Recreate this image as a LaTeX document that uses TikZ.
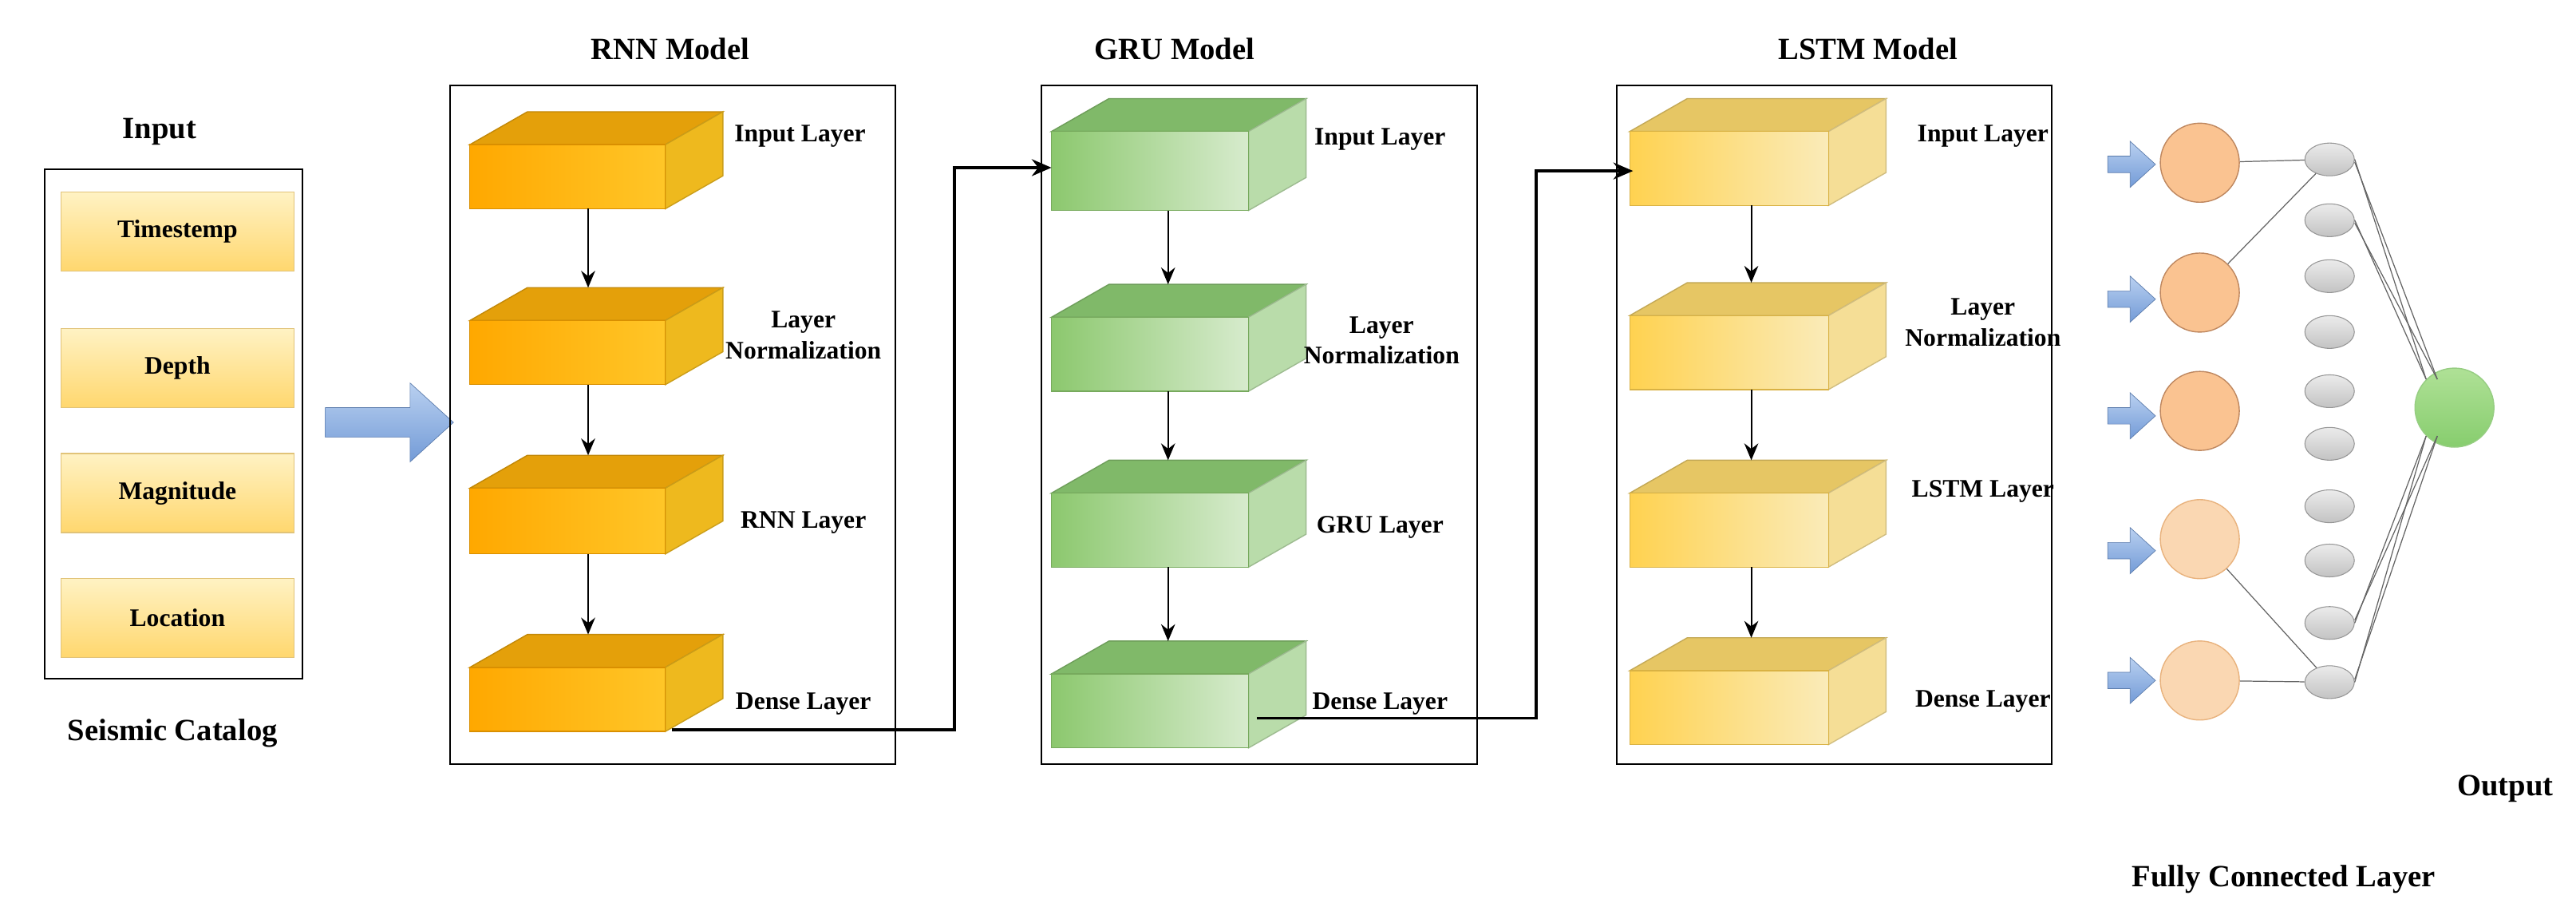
\documentclass[tikz,border=0pt]{standalone}
\usepackage{fontspec}
\setmainfont{Liberation Serif}
\usetikzlibrary{shapes.geometric,arrows.meta}
\definecolor{rA}{RGB}{255,168,0}\definecolor{rB}{RGB}{255,198,40}\definecolor{rT}{RGB}{228,160,10}\definecolor{rS}{RGB}{238,185,30}
\definecolor{gA}{RGB}{140,200,110}\definecolor{gB}{RGB}{215,235,205}\definecolor{gT}{RGB}{128,185,105}\definecolor{gS}{RGB}{185,220,170}
\definecolor{lA}{RGB}{255,210,80}\definecolor{lB}{RGB}{250,235,185}\definecolor{lT}{RGB}{230,198,100}\definecolor{lS}{RGB}{245,222,150}
\definecolor{bA}{RGB}{185,208,240}\definecolor{bB}{RGB}{115,155,215}
\definecolor{orD}{RGB}{250,195,145}\definecolor{orL}{RGB}{250,215,178}
\newcommand\mycube[8]{%
 \fill[#7,draw=#7!85!black] (#1,#2)--(#1+35,#2-20)--(#3+35,#2-20)--(#3,#2)--cycle;
 \fill[#8,draw=#8!85!black] (#3,#2)--(#3+35,#2-20)--(#3+35,#4-20)--(#3,#4)--cycle;
 \shade[left color=#5,right color=#6,draw=#5!85!black] (#1,#2) rectangle (#3,#4);}
\newcommand\blarrow[5]{%
 \shade[top color=bA,bottom color=bB,draw=bB!80!black,line width=0.2pt]
 (#1,#3-#4)--(#2-#5*1.1,#3-#4)--(#2-#5*1.1,#3-#5)--(#2,#3)--(#2-#5*1.1,#3+#5)--(#2-#5*1.1,#3+#4)--(#1,#3+#4)--cycle;}
\tikzset{
 lbl/.style={font=\bfseries\fontsize{9}{11}\selectfont,align=center},
 ttl/.style={font=\bfseries\fontsize{11}{13}\selectfont},
 item/.style={draw={rgb,255:red,225;green,195;blue,120},top color={rgb,255:red,255;green,242;blue,195},bottom color={rgb,255:red,255;green,215;blue,110},minimum width=29.2mm,minimum height=9.9mm,font=\bfseries\fontsize{9}{11}\selectfont},
 flow/.style={-{Stealth[length=6pt,width=5pt]},line width=0.6pt},
 link/.style={-{Stealth[length=7pt,width=6pt]},line width=1pt},
 orc/.style={circle,minimum size=9.9mm,inner sep=0pt,line width=0.4pt},
 gel/.style={ellipse,minimum width=6.2mm,minimum height=4.1mm,inner sep=0pt,draw={rgb,255:red,150;green,150;blue,150},top color={rgb,255:red,235;green,235;blue,235},bottom color={rgb,255:red,195;green,195;blue,195},line width=0.3pt},
 wire/.style={draw={rgb,255:red,100;green,100;blue,100},line width=0.35pt}
}
\begin{document}
\begin{tikzpicture}[x=0.2059mm,y=-0.2059mm]
\useasboundingbox (0,0) rectangle (1568,561.5);
% input
\node[ttl] (tin) at (97,80) {Input};
\draw[line width=0.6pt] (27,103) rectangle (184,413);
\node[item] (i1) at (108,141) {Timestemp};
\node[item] (i2) at (108,224) {Depth};
\node[item] (i3) at (108,300) {Magnitude};
\node[item] (i4) at (108,376) {Location};
\node[ttl] (tsc) at (105,446) {Seismic Catalog};
\blarrow{198}{276}{257}{9}{24}
% RNN
\node[ttl] (trnn) at (408,30) {RNN Model};
\draw[line width=0.6pt] (274,52) rectangle (545,465);
\mycube{286}{88}{405}{127}{rA}{rB}{rT}{rS}
\mycube{286}{195}{405}{234}{rA}{rB}{rT}{rS}
\mycube{286}{297}{405}{337}{rA}{rB}{rT}{rS}
\mycube{286}{406}{405}{445}{rA}{rB}{rT}{rS}
\coordinate (r1) at (358,127);\coordinate (r2t) at (358,175);
\coordinate (r2) at (358,234);\coordinate (r3t) at (358,277);
\coordinate (r3) at (358,337);\coordinate (r4t) at (358,386);
\draw[flow] (r1)--(r2t);\draw[flow] (r2)--(r3t);\draw[flow] (r3)--(r4t);
\node[lbl] at (487,83) {Input Layer};
\node[lbl] at (489,204) {Layer\\Normalization};
\node[lbl] at (489,318) {RNN Layer};
\node[lbl] at (489,428) {Dense Layer};
% GRU
\node[ttl] (tgru) at (715,30) {GRU Model};
\draw[line width=0.6pt] (634,52) rectangle (899,465);
\mycube{640}{80}{760}{128}{gA}{gB}{gT}{gS}
\mycube{640}{193}{760}{238}{gA}{gB}{gT}{gS}
\mycube{640}{300}{760}{345}{gA}{gB}{gT}{gS}
\mycube{640}{410}{760}{455}{gA}{gB}{gT}{gS}
\coordinate (g1) at (711,128);\coordinate (g2t) at (711,173);
\coordinate (g2) at (711,238);\coordinate (g3t) at (711,280);
\coordinate (g3) at (711,345);\coordinate (g4t) at (711,390);
\draw[flow] (g1)--(g2t);\draw[flow] (g2)--(g3t);\draw[flow] (g3)--(g4t);
\node[lbl] at (840,85) {Input Layer};
\node[lbl] at (841,207) {Layer\\Normalization};
\node[lbl] at (840,321) {GRU Layer};
\node[lbl] at (840,428) {Dense Layer};
% LSTM
\node[ttl] (tlstm) at (1137,30) {LSTM Model};
\draw[line width=0.6pt] (984,52) rectangle (1249,465);
\mycube{992}{80}{1113}{125}{lA}{lB}{lT}{lS}
\mycube{992}{192}{1113}{237}{lA}{lB}{lT}{lS}
\mycube{992}{300}{1113}{345}{lA}{lB}{lT}{lS}
\mycube{992}{408}{1113}{453}{lA}{lB}{lT}{lS}
\coordinate (l1) at (1066,125);\coordinate (l2t) at (1066,172);
\coordinate (l2) at (1066,237);\coordinate (l3t) at (1066,280);
\coordinate (l3) at (1066,345);\coordinate (l4t) at (1066,388);
\draw[flow] (l1)--(l2t);\draw[flow] (l2)--(l3t);\draw[flow] (l3)--(l4t);
\node[lbl] at (1207,83) {Input Layer};
\node[lbl] at (1207,196) {Layer\\Normalization};
\node[lbl] at (1207,299) {LSTM Layer};
\node[lbl] at (1207,427) {Dense Layer};
% connectors between models
\coordinate (rout) at (409,444);\coordinate (gin) at (640,102);
\coordinate (gout) at (765,437);\coordinate (lin) at (994,104);
\draw[link] (rout)--(581,444)--(581,102)--(gin);
\draw[link] (gout)--(935,437)--(935,104)--(lin);
% fully connected
\foreach \i/\y in {1/100,2/182,3/253,4/335,5/414}{\blarrow{1283}{1312}{\y}{5}{14}}
\node[orc,fill=orD,draw={rgb,255:red,190;green,135;blue,95}] (o1) at (1339,99) {};
\node[orc,fill=orD,draw={rgb,255:red,190;green,135;blue,95}] (o2) at (1339,178) {};
\node[orc,fill=orD,draw={rgb,255:red,190;green,135;blue,95}] (o3) at (1339,250) {};
\node[orc,fill=orL,draw={rgb,255:red,232;green,178;blue,125}] (o4) at (1339,328) {};
\node[orc,fill=orL,draw={rgb,255:red,232;green,178;blue,125}] (o5) at (1339,414) {};
\foreach \i/\y in {1/97,2/134,3/168,4/202,5/238,6/270,7/308,8/341,9/379,10/415}{\node[gel] (h\i) at (1418,\y) {};}
\node[orc,top color={rgb,255:red,175;green,225;blue,150},bottom color={rgb,255:red,135;green,205;blue,110},draw={rgb,255:red,150;green,205;blue,130}] (out) at (1494,248) {};
\draw[wire] (o1)--(h1);\draw[wire] (o2)--(h1);\draw[wire] (o4)--(h10);\draw[wire] (o5)--(h10);
\foreach \h in {h1,h2}{\draw[wire] (\h.east)--(out.north west);\draw[wire] ([yshift=-1pt]\h.east)--([xshift=4pt]out.north west);}
\foreach \h in {h9,h10}{\draw[wire] (\h.east)--(out.south west);\draw[wire] ([yshift=1pt]\h.east)--([xshift=4pt]out.south west);}
\node[ttl] (tout) at (1525,480) {Output};
\node[ttl] (tfc) at (1390,535) {Fully Connected Layer};
\end{tikzpicture}
\end{document}
